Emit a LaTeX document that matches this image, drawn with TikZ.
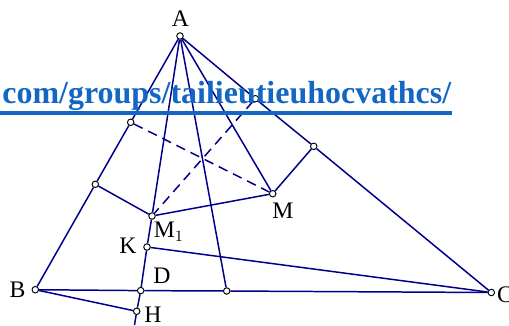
\documentclass[tikz,border=0pt]{standalone}
\usepackage{fontspec}
\setmainfont{Liberation Serif}
\usepackage{xcolor}
\usetikzlibrary{positioning, calc}
\definecolor{navyline}{RGB}{0,0,139}
\definecolor{linkblue}{RGB}{20,102,196}

\begin{document}
\begin{tikzpicture}[
    x=0.02cm, y=-0.02cm,
    pt/.style={circle, draw=black, fill=white, line width=0.55pt,
        inner sep=0pt, minimum size=0.13cm},
    lbl/.style={font=\fontsize{13.5}{14}\selectfont, inner sep=0pt},
    seg/.style={draw=navyline, line width=0.85pt},
    hidden/.style={seg, dash pattern=on 5.5pt off 3.5pt},
    link/.style={font=\fontsize{18.2}{20}\selectfont\bfseries, text=linkblue, inner sep=0pt}
]
\useasboundingbox (0,0) rectangle (509,325);

% Points
\node[pt] (A) at (180,36) {};
\node[pt] (B) at (35.3,289.7) {};
\node[pt] (C) at (491.3,292.5) {};
\node[pt] (M) at (272.7,193.7) {};
\node[pt] (M1) at (152,216) {};
\node[pt] (K) at (147,247) {};
\node[pt] (D) at (140.7,290.6) {};
\node[pt] (H) at (136.7,311.3) {};
\node[pt] (E) at (226.7,291) {};
\node[pt] (P) at (130.7,122.3) {};
\node[pt] (Q) at (95.3,184.3) {};
\node[pt] (R) at (255.3,98.7) {};
\node[pt] (S) at (313.7,146.3) {};
\coordinate (Hend) at (134.5,325);

% Labels
\node[lbl] (lA) at (180.5,18.5) {A};
\node[lbl] (lB) at (17.5,290) {B};
\node[lbl] (lC) at (505,295) {C};
\node[lbl] (lM) at (283,211) {M};
\node[lbl, anchor=north west] (lM1) at (153.5,221.5) {M$_1$};
\node[lbl] (lK) at (128,246) {K};
\node[lbl] (lD) at (162,276) {D};
\node[lbl] (lH) at (153,315) {H};

% Sides
\draw[seg] (A) -- (P) -- (Q) -- (B);
\draw[seg] (A) -- (R) -- (S) -- (C);
\draw[seg] (B) -- (D) -- (E) -- (C);

% Lines from A
\draw[seg] (A) -- (M1) -- (K) -- (D) -- (H) -- (Hend);
\draw[seg] (A) -- (M);
\draw[seg] (A) -- (E);

% Other segments
\draw[seg] (Q) -- (M1) -- (M) -- (S);
\draw[seg] (K) -- (C);
\draw[seg] (B) -- (H);
\draw[hidden] (P) -- (M);
\draw[hidden] (R) -- (M1);

% Watermark
\node[link, anchor=base west] (url) at (2,103.3) {com/groups/tailieutieuhocvathcs/};
\draw[linkblue, line width=2.2pt] ([yshift=-5.3pt]url.base west -| 0,0) -- ([yshift=-5.3pt]url.base east);

\end{tikzpicture}
\end{document}
